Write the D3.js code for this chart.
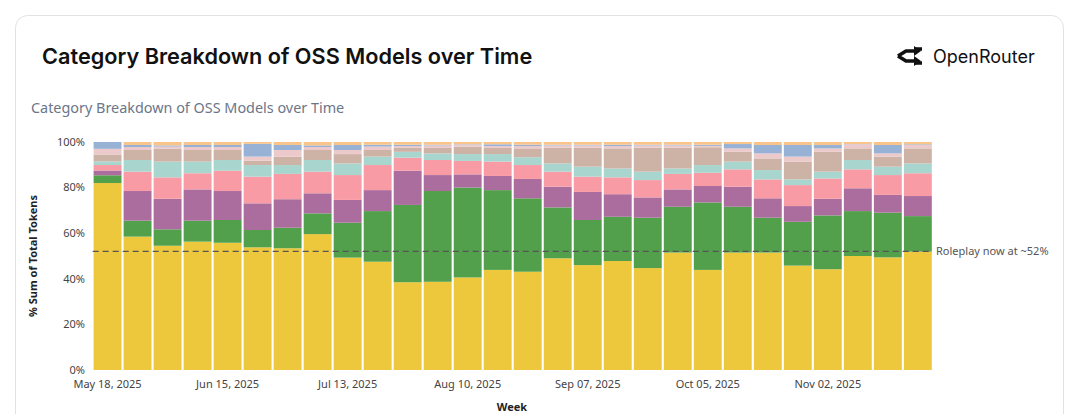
<!DOCTYPE html>
<html>
<head>
<meta charset="utf-8">
<script src="https://cdn.jsdelivr.net/npm/d3@7"></script>
<style>
  html, body { margin: 0; padding: 0; background: #fff; }
  body { width: 1080px; height: 414px; overflow: hidden; }
</style>
</head>
<body>
<svg id="chart" width="1080" height="414"></svg>
<script>
// weeks shown on the x axis
var weeks = ["2025-05-18","2025-05-25","2025-06-01","2025-06-08","2025-06-15","2025-06-22","2025-06-29",
  "2025-07-06","2025-07-13","2025-07-20","2025-07-27","2025-08-03","2025-08-10","2025-08-17",
  "2025-08-24","2025-08-31","2025-09-07","2025-09-14","2025-09-21","2025-09-28","2025-10-05",
  "2025-10-12","2025-10-19","2025-10-26","2025-11-02","2025-11-09","2025-11-16","2025-11-23"];
var tickWeeks = ["2025-05-18","2025-06-15","2025-07-13","2025-08-10","2025-09-07","2025-10-05","2025-11-02"];
var yTicks = [0, 20, 40, 60, 80, 100];

// share of tokens per category (% of week), bottom to top
var roleplay    = [82, 58.5, 54.5, 56.3, 55.8, 53.8, 53.4, 59.6, 49.3, 47.5, 38.5, 38.7, 40.6, 43.9, 43.1, 49, 46, 47.8, 44.7, 51.5, 43.9, 51.5, 51.5, 45.8, 44.2, 50, 49.4, 51.9];
var programming = [3.4, 7, 7.2, 9.2, 10, 7.6, 9, 9.1, 15.3, 22.2, 33.9, 39.8, 39.4, 35, 32.2, 22.3, 19.8, 19.4, 22.1, 20.1, 29.6, 20.1, 15.3, 19.2, 23.6, 19.7, 19.6, 15.6];
var technology  = [2.1, 13, 13.4, 13.7, 12.7, 11.7, 12.5, 8.8, 10, 9.2, 15, 7, 5.8, 6.2, 8.5, 9.1, 12.3, 9.9, 8.9, 7.6, 7.2, 8.8, 8.5, 6.9, 7.3, 10, 7.8, 8.8];
var science     = [2.4, 8.5, 9.4, 7.1, 8.9, 11.7, 11.1, 9.5, 10.9, 11, 5.7, 6.6, 5.9, 6.3, 6.1, 6.6, 6.7, 7.4, 7.6, 6.8, 5.8, 7.6, 8.3, 9.2, 8.9, 8.3, 8.7, 10];
var translation = [1.6, 5.1, 6.9, 5.1, 4.7, 5.1, 3.9, 5.1, 5.1, 3.7, 2.6, 2.9, 3, 3.3, 3.4, 3.6, 4.4, 3.9, 3.7, 2.4, 3.4, 3.4, 4.1, 2.5, 3, 4.1, 3.7, 4.3];
var trivia      = [3, 4.4, 5.6, 5.1, 4.4, 1.9, 3.7, 4.4, 4.1, 2.9, 1.7, 2.4, 3.3, 2.7, 3.9, 6.9, 8.3, 8.8, 10.5, 9.1, 7.8, 4.3, 5.1, 7.8, 8.7, 5.1, 4.4, 6.6];
var marketing   = [2.5, 1.3, 1, 1.3, 1.3, 1.8, 2.9, 1.3, 1.8, 1.5, 0.8, 1.1, 0.8, 0.8, 1, 1, 1, 1, 1, 1, 0.6, 1.5, 2.2, 2.2, 1.5, 1.8, 1.4, 1.5];
var health      = [3, 0.9, 0.5, 0.9, 0.9, 5.6, 2.2, 0.7, 2.2, 0.8, 0.6, 0.3, 0.2, 0.8, 0.6, 0.3, 0.3, 0.6, 0.3, 0.3, 0.5, 1.9, 3.7, 5.1, 1.5, 0.1, 3.7, 0.3];
var other       = [0, 1.3, 1.5, 1.3, 1.3, 0.8, 1.3, 1.5, 1.3, 1.2, 1.2, 1.2, 1, 1, 1.2, 1.2, 1.2, 1.2, 1.2, 1.2, 1.2, 0.9, 1.3, 1.3, 1.3, 0.9, 1.3, 1];

var roleplayNow = 52;

var keys = ["roleplay","programming","technology","science","translation","trivia","marketing","health","other"];
var series = [roleplay, programming, technology, science, translation, trivia, marketing, health, other];
var colors = ["#eec83c","#52a04c","#aa6d9e","#f99ba4","#a9d5cf","#cdb2a6","#ecc9cb","#97b2d4","#f8c48c"];

var rows = weeks.map(function (w, i) {
  var r = { week: w };
  keys.forEach(function (k, j) { r[k] = series[j][i]; });
  return r;
});

var svg = d3.select("#chart");

// card
svg.append("rect")
  .attr("x", 15.5).attr("y", 15.5)
  .attr("width", 1048).attr("height", 440)
  .attr("rx", 12)
  .attr("fill", "#fff")
  .attr("stroke", "#e2e2e2");

svg.append("text")
  .attr("x", 42).attr("y", 64)
  .attr("font-family", "Inter, 'Noto Sans', sans-serif")
  .attr("font-weight", 600)
  .attr("font-size", "21.7px")
  .attr("fill", "#111")
  .text("Category Breakdown of OSS Models over Time");

// OpenRouter mark
var logo = svg.append("g").attr("transform", "translate(896,46)");
logo.append("path")
  .attr("d", "M26,3 L19,3 M2,10 L10,5 L19,5 M2,10 L10,15 L19,15 M26,17 L19,17")
  .attr("fill", "none").attr("stroke", "#111").attr("stroke-width", 3.6)
  .attr("stroke-linejoin", "round");
logo.append("path").attr("d", "M18,0 L25,5 L18,10 Z").attr("fill", "#111");
logo.append("path").attr("d", "M18,10 L25,15 L18,20 Z").attr("fill", "#111");
svg.append("text")
  .attr("x", 933).attr("y", 63)
  .attr("font-family", "Inter, 'Noto Sans', sans-serif")
  .attr("font-size", "18px")
  .attr("fill", "#111")
  .text("OpenRouter");

svg.append("text")
  .attr("x", 31).attr("y", 113)
  .attr("font-family", "'Noto Sans', sans-serif")
  .attr("font-size", "14.4px")
  .attr("fill", "#6b7689")
  .text("Category Breakdown of OSS Models over Time");

// scales
var x = d3.scaleBand().domain(weeks).range([92.7, 932.7]).paddingInner(0.07).paddingOuter(0.03);
var y = d3.scaleLinear().domain([0, 100]).range([370, 142]);

var stacked = d3.stack().keys(keys)(rows);

var plot = svg.append("g");
plot.selectAll("g.layer")
  .data(stacked)
  .enter().append("g")
  .attr("class", "layer")
  .attr("fill", function (d, i) { return colors[i]; })
  .selectAll("rect")
  .data(function (d) { return d; })
  .enter().append("rect")
  .attr("x", function (d) { return x(d.data.week); })
  .attr("width", x.bandwidth())
  .attr("y", function (d) { return y(Math.min(100, d[1])); })
  .attr("height", function (d) { return Math.max(0, y(d[0]) - y(Math.min(100, d[1]))); });

// axes
var fmt = d3.timeFormat("%b %d, %Y");
var parse = d3.timeParse("%Y-%m-%d");

var yAxis = svg.append("g")
  .attr("transform", "translate(85,0)")
  .call(d3.axisLeft(y).tickValues(yTicks).tickSize(0).tickPadding(0).tickFormat(function (d) { return d + "%"; }));
yAxis.select(".domain").remove();
yAxis.selectAll("text")
  .attr("dy", "0.3em")
  .attr("font-family", "'Noto Sans', sans-serif")
  .attr("font-size", "11px")
  .attr("fill", "#444");

var xAxis = svg.append("g")
  .attr("transform", "translate(0,380)")
  .call(d3.axisBottom(x).tickValues(tickWeeks).tickSize(0).tickPadding(0).tickFormat(function (d) { return fmt(parse(d)); }));
xAxis.select(".domain").remove();
xAxis.selectAll("text")
  .attr("font-family", "'Noto Sans', sans-serif")
  .attr("font-size", "11px")
  .attr("fill", "#444");

svg.append("text")
  .attr("transform", "translate(37,256)rotate(-90)")
  .attr("text-anchor", "middle")
  .attr("font-family", "'Noto Sans', sans-serif")
  .attr("font-weight", "bold")
  .attr("font-size", "11px")
  .attr("fill", "#222")
  .text("% Sum of Total Tokens");

svg.append("text")
  .attr("x", 512).attr("y", 411)
  .attr("text-anchor", "middle")
  .attr("font-family", "'Noto Sans', sans-serif")
  .attr("font-weight", "bold")
  .attr("font-size", "11px")
  .attr("fill", "#222")
  .text("Week");

// roleplay reference line
svg.append("line")
  .attr("x1", x.range()[0]).attr("x2", x.range()[1])
  .attr("y1", y(roleplayNow)).attr("y2", y(roleplayNow))
  .attr("stroke", "#555")
  .attr("stroke-width", 1.3)
  .attr("stroke-dasharray", "6,4");

svg.append("text")
  .attr("x", 936).attr("y", y(roleplayNow))
  .attr("dy", "0.35em")
  .attr("font-family", "'Noto Sans', sans-serif")
  .attr("font-size", "11px")
  .attr("fill", "#555")
  .text("Roleplay now at ~" + roleplayNow + "%");
</script>
</body>
</html>
